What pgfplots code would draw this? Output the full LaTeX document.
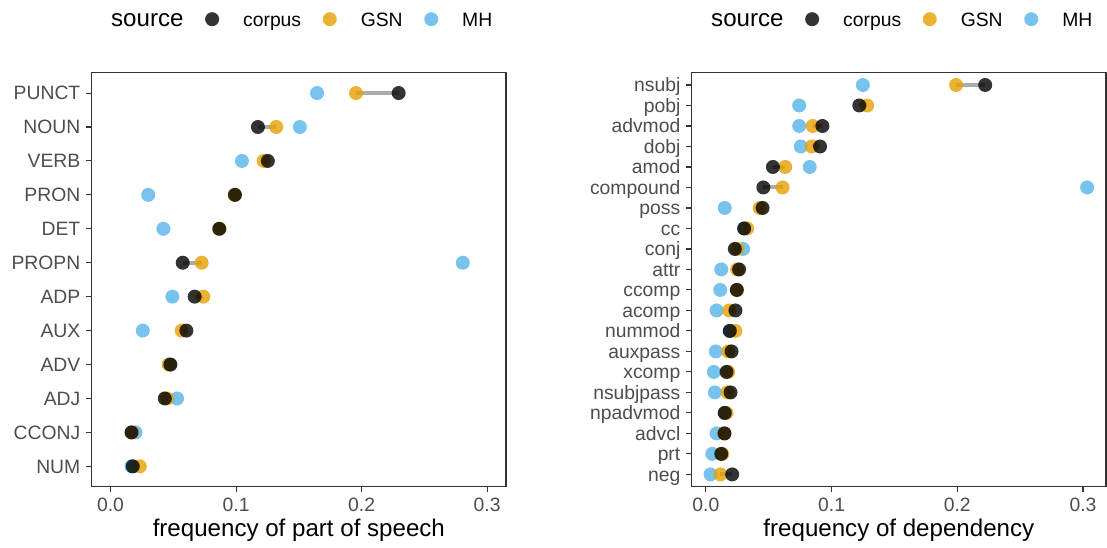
\documentclass[border=0pt]{standalone}
\usepackage{fontspec}
\setmainfont{Liberation Sans}
\usepackage{pgfplots}
\pgfplotsset{compat=1.18}
\usepackage{pgfplotstable}

\definecolor{corpusc}{HTML}{000000}
\definecolor{gsnc}{HTML}{E69F00}
\definecolor{mhc}{HTML}{56B4E9}
\definecolor{ticktext}{HTML}{4D4D4D}
\definecolor{frame}{HTML}{333333}

% part of speech, top row has the highest pos
\pgfplotstableread{
pos label corpus gsn mh
12 PUNCT 0.2295 0.1955 0.1645
11 NOUN 0.1174 0.1320 0.1508
10 VERB 0.1253 0.1220 0.1047
9 PRON 0.0991 0.0990 0.0300
8 DET 0.0866 0.0868 0.0421
7 PROPN 0.0575 0.0726 0.2806
6 ADP 0.0670 0.0739 0.0493
5 AUX 0.0604 0.0567 0.0257
4 ADV 0.0477 0.0464 0.0472
3 ADJ 0.0432 0.0450 0.0530
2 CCONJ 0.0167 0.0170 0.0199
1 NUM 0.0177 0.0233 0.0167
}\postab

% dependency relations
\pgfplotstableread{
pos label corpus gsn mh
20 nsubj 0.2222 0.1990 0.1249
19 pobj 0.1220 0.1283 0.0742
18 advmod 0.0927 0.0850 0.0742
17 dobj 0.0908 0.0842 0.0755
16 amod 0.0533 0.0631 0.0826
15 compound 0.0457 0.0610 0.3033
14 poss 0.0451 0.0428 0.0150
13 cc 0.0304 0.0328 0.0305
12 conj 0.0230 0.0249 0.0296
11 attr 0.0264 0.0249 0.0122
10 ccomp 0.0246 0.0246 0.0114
9 acomp 0.0235 0.0185 0.0085
8 nummod 0.0190 0.0235 0.0190
7 auxpass 0.0204 0.0177 0.0079
6 xcomp 0.0164 0.0177 0.0063
5 nsubjpass 0.0196 0.0172 0.0071
4 npadvmod 0.0150 0.0164 0.0150
3 advcl 0.0148 0.0146 0.0085
2 prt 0.0122 0.0130 0.0051
1 neg 0.0209 0.0116 0.0037
}\deptab

\pgfplotsset{
  dot/.style={only marks, mark=*, mark size=3.5bp,
    mark options={draw=#1, draw opacity=0, fill=#1, fill opacity=0.8}},
  seg/.style={quiver={u=\thisrow{corpus}-\thisrow{gsn}, v=0},
    no marks, draw=black, draw opacity=0.33, line width=2bp},
  dotpanel/.style={
    scale only axis, width=207.15bp, height=207bp,
    clip=false,
    axis line style={draw=frame, line width=0.55bp},
    tick align=outside, xtick pos=bottom, ytick pos=left,
    major tick length=2.8bp,
    tick style={draw=frame, line width=0.55bp},
    xtick={0,0.1,0.2,0.3},
    scaled x ticks=false,
    x tick label style={/pgf/number format/fixed, /pgf/number format/fixed zerofill,
      /pgf/number format/precision=1, /pgf/number format/assume math mode=true,
      anchor=base, inner sep=0pt, yshift=-9.7bp},
    y tick label style={anchor=base east, inner sep=0pt, xshift=-2.7bp, yshift=-3.45bp},
    every tick label/.append style={font=\fontsize{9.7}{11}\selectfont, text=ticktext},
    x label style={at={(axis description cs:0.5,0)}, anchor=base, inner sep=0pt,
      yshift=-24.7bp, font=\fontsize{12.1}{14}\selectfont},
    legend columns=-1,
    legend image code/.code={%
      \path[draw=none, fill=none] (0bp,3.9bp) -- (17.2bp,3.9bp);
      \draw[mark repeat=2,mark phase=2,##1]
      plot coordinates {(0bp,3.9bp) (8.6bp,3.9bp) (17.2bp,3.9bp)};},
    legend style={draw=none, fill=none, at={(0.5,1)}, anchor=center,
      yshift=25.8bp, xshift=-2bp,
      font=\fontsize{9.7}{11}\selectfont,
      nodes={inner sep=0pt, anchor=base west},
      /tikz/every odd column/.append style={column sep=6.9bp},
      /tikz/every even column/.append style={column sep=5.7bp}},
  },
}

\begin{document}
\begin{tikzpicture}
\begin{axis}[dotpanel, name=left,
  xmin=-0.015, xmax=0.315, ymin=0.4, ymax=12.6,
  ytick={1,...,12},
  yticklabels={NUM,CCONJ,ADJ,ADV,AUX,ADP,PROPN,DET,PRON,VERB,NOUN,PUNCT},
  xlabel={frequency of part of speech}]
  \addlegendimage{empty legend}\addlegendentry{\fontsize{12.1}{14}\selectfont source}
  \addlegendimage{dot=corpusc}\addlegendentry{corpus}
  \addlegendimage{dot=gsnc}\addlegendentry{GSN}
  \addlegendimage{dot=mhc}\addlegendentry{MH}
  \addplot[dot=mhc, forget plot] table[x=mh, y=pos] {\postab};
  \addplot[dot=gsnc, forget plot] table[x=gsn, y=pos] {\postab};
  \addplot[dot=corpusc, forget plot] table[x=corpus, y=pos] {\postab};
  \addplot[seg, forget plot] table[x=gsn, y=pos] {\postab};
\end{axis}
\begin{axis}[dotpanel, name=right, at={(300bp,0)}, anchor=south west,
  xmin=-0.0113, xmax=0.3183, ymin=0.4, ymax=20.6,
  ytick={1,...,20},
  yticklabels={neg,prt,advcl,npadvmod,nsubjpass,xcomp,auxpass,nummod,acomp,ccomp,attr,conj,cc,poss,compound,amod,dobj,advmod,pobj,nsubj},
  xlabel={frequency of dependency}]
  \addlegendimage{empty legend}\addlegendentry{\fontsize{12.1}{14}\selectfont source}
  \addlegendimage{dot=corpusc}\addlegendentry{corpus}
  \addlegendimage{dot=gsnc}\addlegendentry{GSN}
  \addlegendimage{dot=mhc}\addlegendentry{MH}
  \addplot[dot=mhc, forget plot] table[x=mh, y=pos] {\deptab};
  \addplot[dot=gsnc, forget plot] table[x=gsn, y=pos] {\deptab};
  \addplot[dot=corpusc, forget plot] table[x=corpus, y=pos] {\deptab};
  \addplot[seg, forget plot] table[x=gsn, y=pos] {\deptab};
\end{axis}
\pgfresetboundingbox
\path[use as bounding box] (-45.85bp,-30.65bp) rectangle (507.65bp,243.35bp);
\end{tikzpicture}
\end{document}
